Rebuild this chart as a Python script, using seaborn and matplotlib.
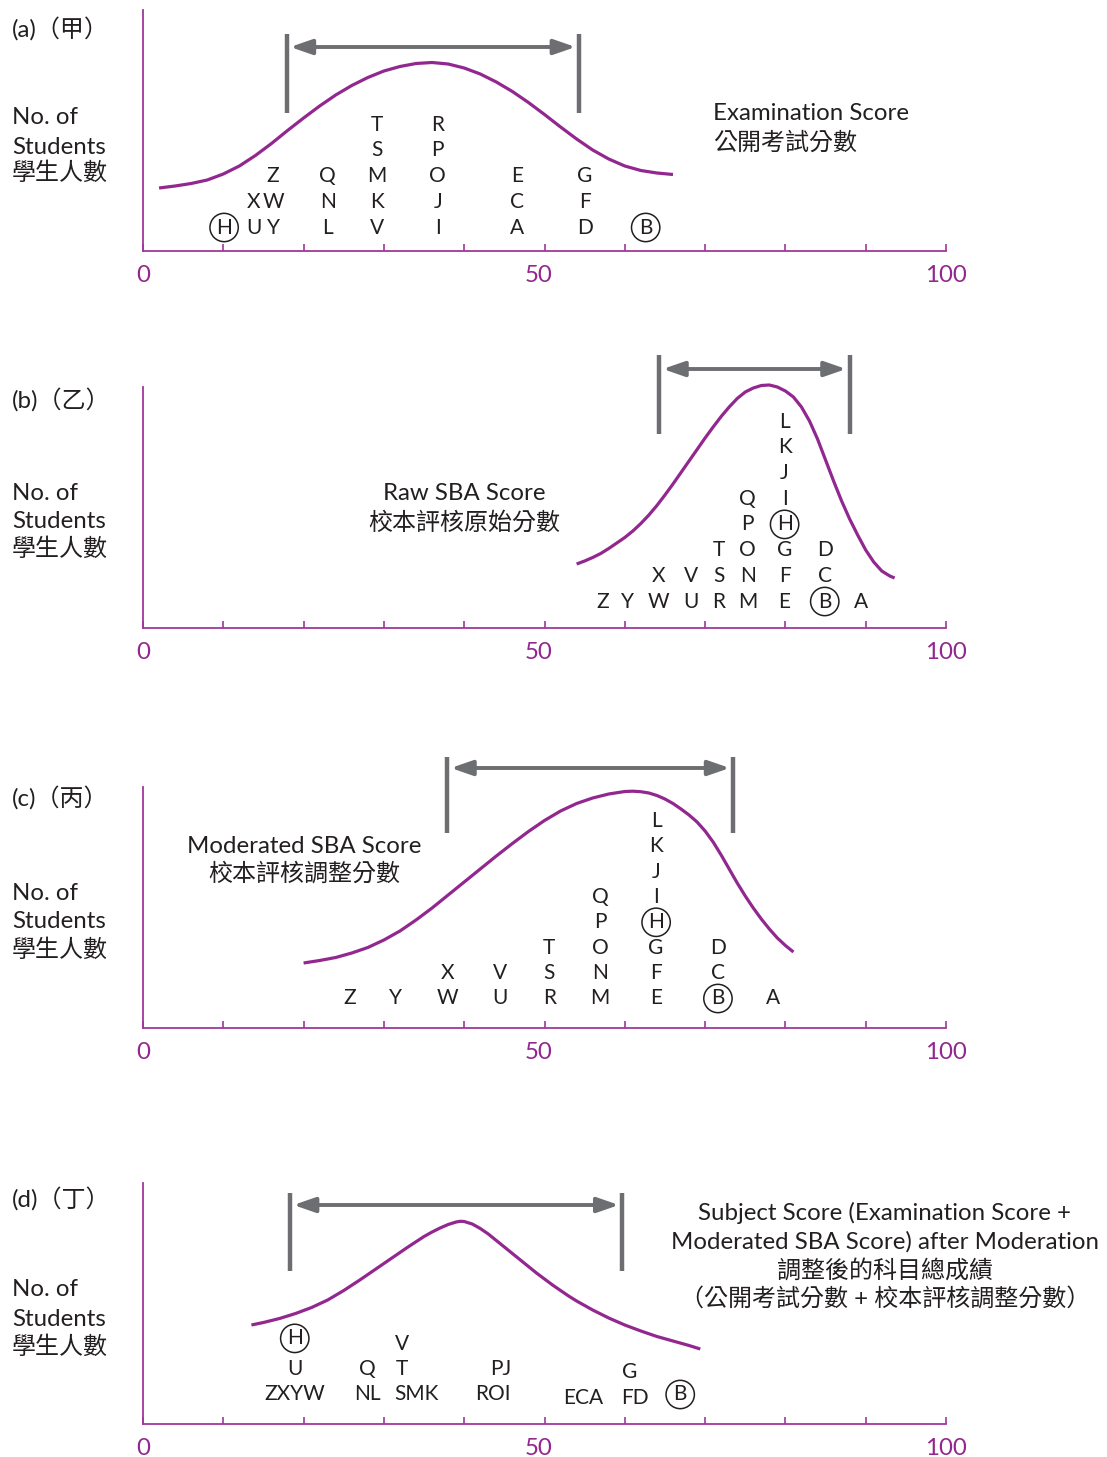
import numpy as np
import pandas as pd
import matplotlib
matplotlib.use("Agg")
import matplotlib.pyplot as plt
from matplotlib.transforms import ScaledTranslation
import seaborn as sns

# ---------------- data ----------------
# distribution curves (score, height)
A_CURVE_X = [2, 4, 6, 8, 10, 12, 14, 16, 18, 20, 22, 24, 26, 28, 30, 32, 34, 36, 38, 40,
             42, 44, 46, 48, 50, 52, 54, 56, 58, 60, 62, 64, 66]
A_CURVE_Y = [63, 65, 67.5, 71, 77, 85, 95.5, 107.5, 120.5, 133, 145, 156, 165.5, 173.5, 180,
             184.5, 187.5, 188.5, 187, 183, 177, 169, 159.5, 148.5, 136.5, 124, 112, 101, 92,
             85, 80.5, 78, 76.5]

B_CURVE_X = [54, 55, 56, 57, 58, 59, 60, 61, 62, 63, 64, 65, 66, 67, 68, 69, 70, 71, 72, 73,
             74, 75, 76, 77, 78, 79, 80, 81, 82, 83, 84, 85, 86, 87, 88, 89, 90, 91, 92, 93,
             93.6]
B_CURVE_Y = [64, 67, 70.5, 74.5, 79.5, 85, 90.5, 97, 104.5, 113, 122.5, 133, 144, 155.5, 167,
             178.5, 190, 201, 211.5, 221, 229.5, 236, 240, 242.5, 243, 241, 237, 231, 221,
             207, 189, 168, 147, 127, 109, 93, 78, 66, 57, 52, 50]

C_CURVE_X = [20, 22, 24, 26, 28, 30, 32, 34, 36, 38, 40, 42, 44, 46, 48, 50, 52, 54, 56, 58,
             60, 61, 62, 63, 64, 65, 66, 67, 68, 69, 70, 71, 72, 73, 74, 75, 76, 77, 78, 79,
             80, 81]
C_CURVE_Y = [65, 67.5, 70.5, 75, 80.5, 88, 97, 108, 120, 133, 146, 159, 172, 184.5, 196.5,
             207.5, 217, 224.5, 230, 234, 236.5, 236.8, 236.3, 235, 232.5, 229, 224.5, 219,
             213, 206, 197, 186, 173, 159, 145, 132, 120, 109, 99, 90, 82.5, 76]

D_CURVE_X = [13.5, 15, 17, 19, 21, 23, 25, 27, 29, 31, 33, 35, 36, 37, 38, 39, 39.5, 40, 41,
             42, 43, 44, 45, 46, 47, 48, 49, 50, 51, 52, 53, 54, 55, 56, 58, 60, 62, 64, 66,
             68, 69.4]
D_CURVE_Y = [99, 101.5, 105.5, 110.5, 116.5, 124, 133.5, 144, 155, 166, 177, 187.5, 192, 196,
             199.5, 202, 202.7, 202.5, 200, 195.5, 190, 183.5, 177, 170.5, 164, 157.5, 151,
             145, 139, 133.5, 128, 123, 118.5, 114, 106, 99, 93, 87.5, 83, 78.5, 75]

# students: label, score, stack level
A_LABELS = ['H', 'U', 'X', 'Y', 'W', 'Z', 'L', 'N', 'Q', 'V', 'K', 'M', 'S', 'T',
            'I', 'J', 'O', 'P', 'R', 'A', 'C', 'E', 'D', 'F', 'G', 'B']
A_SCORES = [10.1, 13.8, 13.8, 16.2, 16.2, 16.2, 23.0, 23.0, 23.0, 29.1, 29.1, 29.1, 29.1, 29.1,
            36.7, 36.7, 36.7, 36.7, 36.7, 46.6, 46.6, 46.6, 55.0, 55.0, 55.0, 62.6]
A_LEVELS = [1, 1, 2, 1, 2, 3, 1, 2, 3, 1, 2, 3, 4, 5, 1, 2, 3, 4, 5, 1, 2, 3, 1, 2, 3, 1]

B_LABELS = ['Z', 'Y', 'W', 'X', 'U', 'V', 'R', 'S', 'T', 'M', 'N', 'O', 'P', 'Q',
            'E', 'F', 'G', 'H', 'I', 'J', 'K', 'L', 'B', 'C', 'D', 'A']
B_SCORES = [57.2, 60.3, 64.2, 64.2, 68.2, 68.2, 71.7, 71.7, 71.7, 75.3, 75.3, 75.3, 75.3, 75.3,
            79.9, 79.9, 79.9, 79.9, 79.9, 79.9, 79.9, 79.9, 84.9, 84.9, 84.9, 89.4]
B_LEVELS = [1, 1, 1, 2, 1, 2, 1, 2, 3, 1, 2, 3, 4, 5, 1, 2, 3, 4, 5, 6, 7, 8, 1, 2, 3, 1]

C_LABELS = ['Z', 'Y', 'W', 'X', 'U', 'V', 'R', 'S', 'T', 'M', 'N', 'O', 'P', 'Q',
            'E', 'F', 'G', 'H', 'I', 'J', 'K', 'L', 'B', 'C', 'D', 'A']
C_SCORES = [25.8, 31.5, 37.9, 37.9, 44.5, 44.5, 50.6, 50.6, 50.6, 56.9, 56.9, 56.9, 56.9, 56.9,
            63.9, 63.9, 63.9, 63.9, 63.9, 63.9, 63.9, 63.9, 71.6, 71.6, 71.6, 78.5]
C_LEVELS = [1, 1, 1, 2, 1, 2, 1, 2, 3, 1, 2, 3, 4, 5, 1, 2, 3, 4, 5, 6, 7, 8, 1, 2, 3, 1]

D_LABELS = ['ZXYW', 'U', 'H', 'NL', 'Q', 'SMK', 'T', 'V', 'ROI', 'PJ', 'ECA', 'FD', 'G', 'B']
D_SCORES = [18.9, 18.9, 18.9, 28.0, 28.0, 34.1, 32.3, 32.3, 43.6, 44.5, 54.8, 61.3, 60.6, 66.9]
D_LEVELS = [1, 2, 3.2, 1, 2, 1, 2, 3, 1, 2, 0.85, 0.85, 1.9, 1]

CIRCLED = ['H', 'B']

# middle-range brackets (score)
RANGE_LO = [17.9, 64.3, 37.9, 18.3]
RANGE_HI = [54.3, 88.0, 73.5, 59.7]

PANEL_TAGS = ['(a)（甲）', '(b)（乙）', '(c)（丙）', '(d)（丁）']
Y_LABEL_LINES = ['No. of', 'Students', '學生人數']
TICK_VALUES = list(range(0, 101, 10))
TICK_TEXT = ['0', '', '', '', '', '50', '', '', '', '', '100']

# ---------------- style ----------------
sns.set_theme(style='white')
plt.rcParams['font.family'] = ['Lato', 'Noto Sans CJK TC', 'DejaVu Sans']

W, H = 1107, 1457
fig = plt.figure(figsize=(W / 100, H / 100), dpi=100)

PURPLE = '#92278F'
AXIS_PURPLE = '#A0379A'
GRAY = '#6D6E71'
INK = '#231F20'
TXT = 17.3
LET = 15


def fx(px):
    return px / W


def fy(py):
    return 1 - py / H


panels = [
    dict(base=251, hh=245, cx=A_CURVE_X, cy=A_CURVE_Y, lab=A_LABELS, sc=A_SCORES, lv=A_LEVELS,
         row0=23.5, step=25.7, bar=(138, 217), arr=204, tag_y=30, ylab_y=(118, 147, 173)),
    dict(base=628, hh=290, cx=B_CURVE_X, cy=B_CURVE_Y, lab=B_LABELS, sc=B_SCORES, lv=B_LEVELS,
         row0=26.5, step=25.7, bar=(194, 273), arr=259, tag_y=401, ylab_y=(494, 522, 549)),
    dict(base=1028, hh=290, cx=C_CURVE_X, cy=C_CURVE_Y, lab=C_LABELS, sc=C_SCORES, lv=C_LEVELS,
         row0=29.5, step=25.4, bar=(195, 271), arr=260, tag_y=799, ylab_y=(893, 922, 950)),
    dict(base=1424, hh=290, cx=D_CURVE_X, cy=D_CURVE_Y, lab=D_LABELS, sc=D_SCORES, lv=D_LEVELS,
         row0=29.5, step=25.5, bar=(153, 231), arr=219, tag_y=1200, ylab_y=(1290, 1319, 1347)),
]

for i, p in enumerate(panels):
    B = p['base']
    ax = fig.add_axes([fx(143), fy(B), fx(803), p['hh'] / H])
    ax.patch.set_alpha(0)
    df = pd.DataFrame({'score': p['cx'], 'count': p['cy']})
    sns.lineplot(data=df, x='score', y='count', ax=ax, color=PURPLE, lw=2.3, legend=False,
                 solid_joinstyle='round', solid_capstyle='butt')
    ax.set_xlim(0, 100)
    ax.set_ylim(0, p['hh'])
    ax.set_xlabel('')
    ax.set_ylabel('')
    ax.set_yticks([])
    ax.set_xticks(TICK_VALUES)
    ax.set_xticklabels(TICK_TEXT)
    ax.tick_params(axis='x', direction='in', length=5, width=1.2, colors=AXIS_PURPLE,
                   labelcolor=PURPLE, labelsize=TXT, pad=10, bottom=True)
    lbl50 = ax.get_xticklabels()[5]
    lbl50.set_transform(lbl50.get_transform() + ScaledTranslation(-6 / 100, 0, fig.dpi_scale_trans))
    for s in ['top', 'right']:
        ax.spines[s].set_visible(False)
    for s in ['left', 'bottom']:
        ax.spines[s].set_color(AXIS_PURPLE)
        ax.spines[s].set_linewidth(1.3)
    ax.spines['left'].set_bounds(0, 241)
    ax.spines['bottom'].set_bounds(0, 100)

    # student letters
    for lab, sc, lv in zip(p['lab'], p['sc'], p['lv']):
        y = p['row0'] + (lv - 1) * p['step']
        kw = {}
        if lab in CIRCLED:
            kw['bbox'] = dict(boxstyle='circle,pad=0.2', fc='none', ec=INK, lw=1.1)
        ax.text(sc, y, lab, ha='center', va='center', fontsize=LET, color=INK, **kw)

    # middle range bracket
    lo, hi = RANGE_LO[i], RANGE_HI[i]
    ax.vlines([lo, hi], p['bar'][0], p['bar'][1], colors=GRAY, lw=3.2, clip_on=False)
    ax.annotate('', xy=(hi, p['arr']), xytext=(lo, p['arr']),
                arrowprops=dict(arrowstyle='<|-|>,head_length=1.3,head_width=0.45',
                                mutation_scale=10, color=GRAY, lw=2.8,
                                shrinkA=2.5, shrinkB=2.5), annotation_clip=False)

    # panel tag and y-label
    fig.text(fx(12), fy(p['tag_y']), PANEL_TAGS[i], ha='left', va='center',
             fontsize=TXT, color=INK)
    for line, ly in zip(Y_LABEL_LINES, p['ylab_y']):
        fig.text(fx(12), fy(ly), line, ha='left', va='center', fontsize=TXT, color=INK)

# score names
fig.text(fx(713), fy(114), 'Examination Score', ha='left', va='center', fontsize=TXT, color=INK)
fig.text(fx(713), fy(142), '公開考試分數', ha='left', va='center', fontsize=TXT, color=INK)
fig.text(fx(464), fy(494), 'Raw SBA Score', ha='center', va='center', fontsize=TXT, color=INK)
fig.text(fx(464), fy(522), '校本評核原始分數', ha='center', va='center', fontsize=TXT, color=INK)
fig.text(fx(304), fy(846), 'Moderated SBA Score', ha='center', va='center', fontsize=TXT, color=INK)
fig.text(fx(304), fy(873), '校本評核調整分數', ha='center', va='center', fontsize=TXT, color=INK)
for line, ly in zip(['Subject Score (Examination Score +',
                     'Moderated SBA Score) after Moderation',
                     '調整後的科目總成績',
                     '（公開考試分數 + 校本評核調整分數）'],
                    [1213, 1242, 1270, 1298]):
    fig.text(fx(885), fy(ly), line, ha='center', va='center', fontsize=TXT, color=INK)

fig.savefig('out.png', dpi=100, facecolor='white')
